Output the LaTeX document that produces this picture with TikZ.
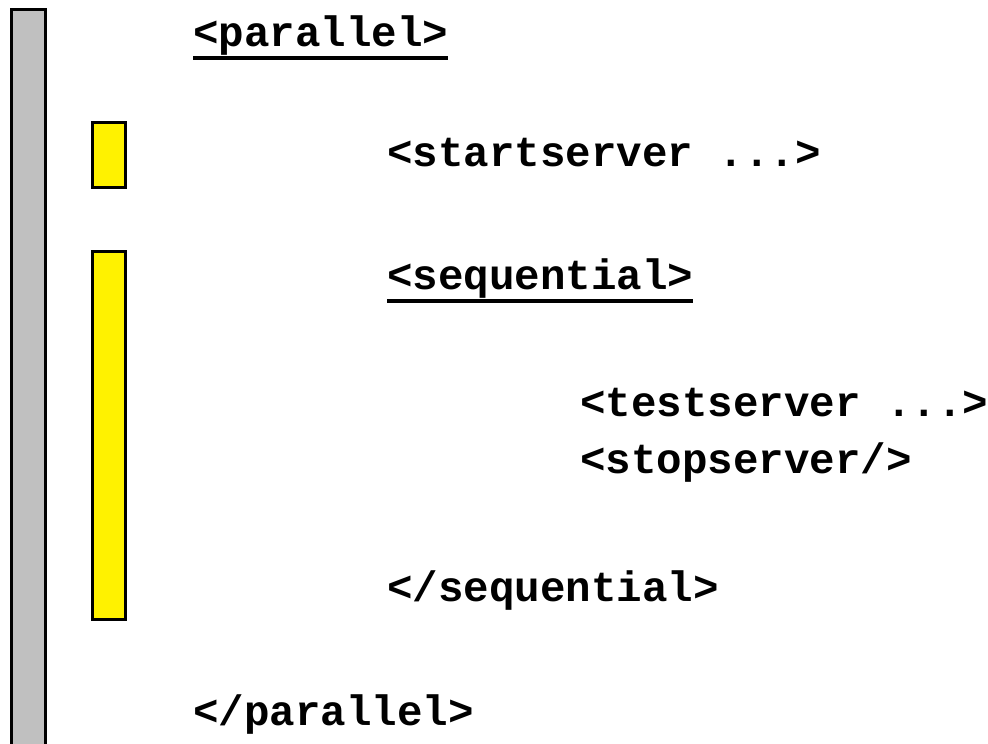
\documentclass[tikz,border=0pt]{standalone}
\usepackage{fontspec}
\setmonofont{Liberation Mono}
\begin{document}
\begin{tikzpicture}[x=1pt,y=-1pt,
  txt/.style={font=\fontsize{42.5}{50}\selectfont\ttfamily\bfseries, anchor=base west, inner sep=0pt, outer sep=0pt},
  ul/.style={line width=4.5pt},
  graybar/.style={draw=black, line width=3pt, fill={rgb,255:red,192;green,192;blue,192}},
  yelbox/.style={draw=black, line width=3pt, fill=yellow}]
\useasboundingbox (0,0) rectangle (988,744);
\clip (0,0) rectangle (988,744);
\path[graybar] (11,9) rectangle (45,770);
\path[yelbox] (92,122) rectangle (125,187);
\path[yelbox] (92,251) rectangle (125,619);
\node[txt] (par) at (193,46) {<parallel>};
\draw[ul] ([yshift=-12pt]par.base west) -- ([yshift=-12pt]par.base east);
\node[txt] (start) at (387,166) {<startserver ...>};
\node[txt] (seq) at (387,289) {<sequential>};
\draw[ul] ([yshift=-12pt]seq.base west) -- ([yshift=-12pt]seq.base east);
\node[txt] (test) at (580,416) {<testserver ...>};
\node[txt] (stop) at (580,473) {<stopserver/>};
\node[txt] (eseq) at (387,601) {</sequential>};
\node[txt] (epar) at (193,725) {</parallel>};
\end{tikzpicture}
\end{document}
